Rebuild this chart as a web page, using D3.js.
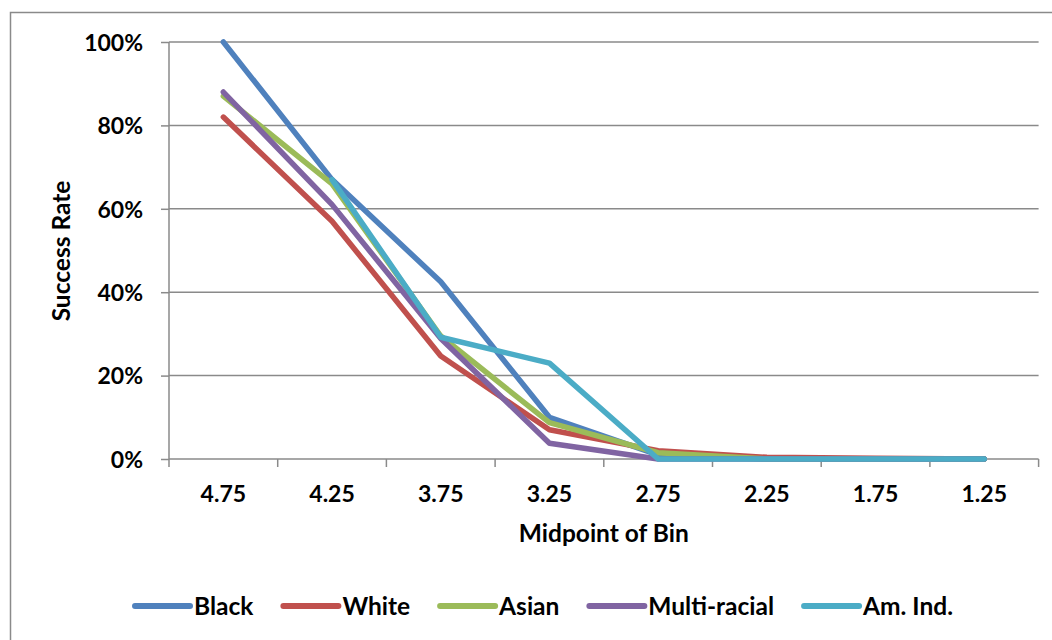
<!DOCTYPE html>
<html>
<head>
<meta charset="utf-8">
<script src="https://cdn.jsdelivr.net/npm/d3@7"></script>
<style>
html,body{margin:0;padding:0;background:#fff;}
svg{display:block;}
text{font-family:Lato,"Open Sans",sans-serif;font-weight:bold;fill:#000;}
</style>
</head>
<body>
<svg id="chart" width="1052" height="640"></svg>
<script>
const categories = ["4.75","4.25","3.75","3.25","2.75","2.25","1.75","1.25"];
const yTicks = [0,0.2,0.4,0.6,0.8,1.0];
const seriesNames = ["Black","White","Asian","Multi-racial","Am. Ind."];
const seriesColors = ["#4F81BD","#C0504D","#9BBB59","#8064A2","#4BACC6"];
const black = [1.00,0.67,0.425,0.10,0.01,0,0,0];
const white = [0.82,0.57,0.247,0.07,0.02,0.004,0.002,0];
const asian = [0.87,0.66,0.295,0.087,0.015,0,0,0];
const multiracial = [0.88,0.61,0.289,0.038,0,0,0,0];
const amInd = [null,0.67,0.292,0.23,0,0,0,0];
const seriesValues = [black,white,asian,multiracial,amInd];

(function(){
const svg = d3.select("#chart");
const pL = 169, pR = 1038.6, pT = 42, pB = 459;
const fsTick = 23, fsTitle = 24.5;
const gray = "#8a8a8a";

svg.append("rect").attr("x",10.5).attr("y",12.5).attr("width",1100).attr("height",700)
  .attr("fill","none").attr("stroke",gray).attr("stroke-width",1.5);

const x = d3.scaleBand().domain(categories).range([pL,pR]).padding(0);
const y = d3.scaleLinear().domain([0,1]).range([pB,pT]);

svg.append("g").selectAll("line").data(yTicks.filter(d=>d>0)).join("line")
  .attr("x1",pL).attr("x2",pR).attr("y1",d=>y(d)).attr("y2",d=>y(d))
  .attr("stroke",gray).attr("stroke-width",1.5);

const yAxis = d3.axisLeft(y).tickValues(yTicks).tickSize(8).tickPadding(18)
  .tickFormat(d=>Math.round(d*100)+"%");
const gy = svg.append("g").attr("transform",`translate(${pL},0)`).call(yAxis);
gy.select(".domain").attr("stroke",gray).attr("stroke-width",1.5).attr("d",`M0,${pT}V${pB}`);
gy.selectAll(".tick line").attr("stroke",gray).attr("stroke-width",1.5);
gy.selectAll(".tick text").attr("font-size",fsTick).attr("dy","0.36em")
  .style("font-family","Lato, sans-serif").style("font-weight","bold").attr("fill","#000");

const xAxis = d3.axisBottom(x).tickSize(0).tickPadding(28);
const gx = svg.append("g").attr("transform",`translate(0,${pB})`).call(xAxis);
gx.select(".domain").attr("stroke",gray).attr("stroke-width",1.5).attr("d",`M${pL},0H${pR}`);
gx.selectAll(".tick text").attr("font-size",fsTick).style("font-family","Lato, sans-serif")
  .style("font-weight","bold").attr("fill","#000").attr("dy","0.71em").attr("y",27);
const bounds = categories.map(c=>x(c)).concat([pR]);
svg.append("g").selectAll("line").data(bounds).join("line")
  .attr("x1",d=>d).attr("x2",d=>d).attr("y1",pB).attr("y2",pB+8)
  .attr("stroke",gray).attr("stroke-width",1.5);

svg.append("text").attr("x",(pL+pR)/2).attr("y",542).attr("text-anchor","middle")
  .attr("font-size",fsTitle).text("Midpoint of Bin");
svg.append("text").attr("transform",`translate(70,251) rotate(-90)`).attr("text-anchor","middle")
  .attr("font-size",fsTitle).text("Success Rate");

const line = d3.line().defined(d=>d.v!==null)
  .x(d=>x(d.c)+x.bandwidth()/2).y(d=>y(d.v));
seriesValues.forEach((vals,i)=>{
  svg.append("path").datum(vals.map((v,j)=>({c:categories[j],v})))
    .attr("d",line).attr("fill","none").attr("stroke",seriesColors[i])
    .attr("stroke-width",5.5).attr("stroke-linecap","round").attr("stroke-linejoin","round");
});

const lg = svg.append("g");
const items = lg.selectAll("g").data(seriesNames).join("g");
items.append("line").attr("x1",0).attr("x2",55).attr("y1",606).attr("y2",606)
  .attr("stroke",(d,i)=>seriesColors[i]).attr("stroke-width",6).attr("stroke-linecap","round");
items.append("text").attr("x",59).attr("y",615).attr("font-size",fsTitle).text(d=>d);
const widths = [];
items.each(function(){ widths.push(d3.select(this).select("text").node().getComputedTextLength()+59); });
const gap = 30;
const total = d3.sum(widths)+gap*(widths.length-1);
let start = 544 - total/2;
items.attr("transform",(d,i)=>{ const t=`translate(${start},0)`; start += widths[i]+gap; return t; });
})();
</script>
</body>
</html>
